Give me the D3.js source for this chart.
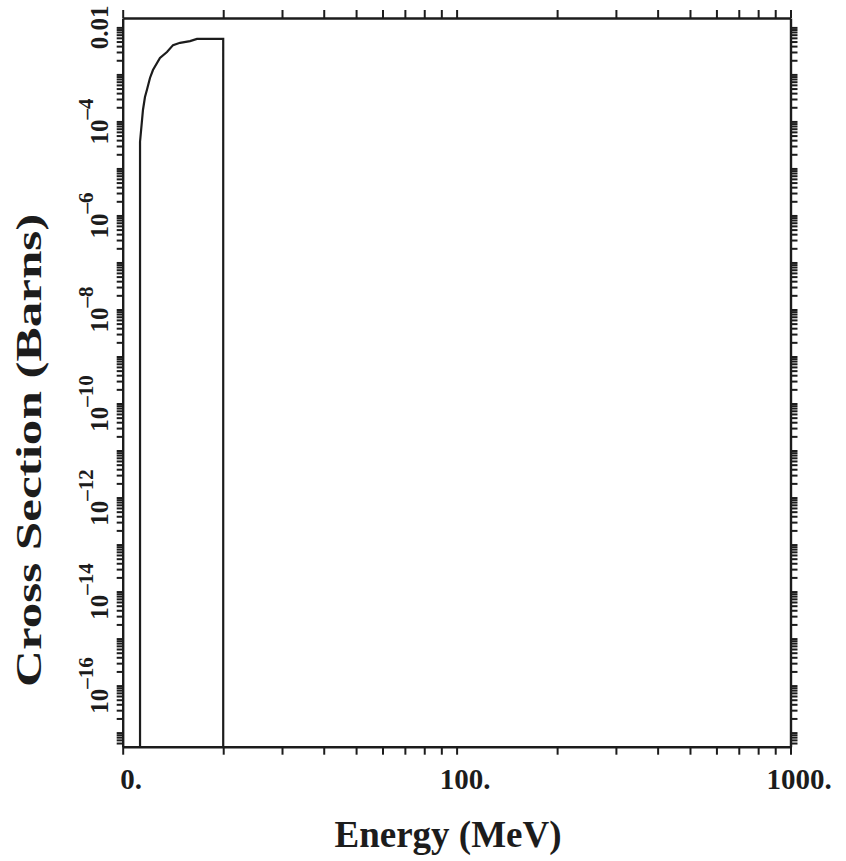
<!DOCTYPE html>
<html>
<head>
<meta charset="utf-8">
<script src="https://cdn.jsdelivr.net/npm/d3@7"></script>
<style>
    body { margin: 0; background: #fff; }
    svg { display: block; }
</style>
</head>
<body>
<div id="chart"></div>
<script>
// curve (MeV, barns); 0 = below the axis floor
const energy = [11.27, 11.27, 11.50, 11.66, 11.82, 12.07, 12.32, 12.93, 13.57, 14.15, 14.85, 15.91, 16.69, 20.0, 20.0];
const crossSection = [0, 3.7e-5, 1.75e-4, 3.3e-4, 4.7e-4, 8.4e-4, 1.24e-3, 2.23e-3, 3.0e-3, 4.2e-3, 4.7e-3, 5.1e-3, 5.7e-3, 5.7e-3, 0];

const xTickValues = [10, 20, 30, 40, 50, 60, 70, 80, 90, 100, 200, 300, 400, 500, 600, 700, 800, 900, 1000];
const xLabelValues = [10, 100, 1000];
const xLabels = ["0.", "100.", "1000."];

const yLabelValues = [1e-2, 1e-4, 1e-6, 1e-8, 1e-10, 1e-12, 1e-14, 1e-16];
const yLabelBase = ["0.01", "10", "10", "10", "10", "10", "10", "10"];
const yLabelSup = ["", "-4", "-6", "-8", "-10", "-12", "-14", "-16"];

const xTitle = "Energy (MeV)";
const yTitle = "Cross Section (Barns)";

const width = 846, height = 861;
const margin = { top: 18, right: 55.5, bottom: 114.3, left: 122.7 };
const innerW = width - margin.left - margin.right;
const innerH = height - margin.top - margin.bottom;
const ink = "#1c1c1c";
const serif = "'Liberation Serif', 'Times New Roman', serif";

const svg = d3.select('#chart').append('svg')
    .attr('width', width)
    .attr('height', height);

const g = svg.append('g')
    .attr('transform', `translate(${margin.left},${margin.top})`);

const xScale = d3.scaleLog()
    .domain([10, 1000])
    .range([0, innerW]);

const yScale = d3.scaleLog()
    .domain([Math.pow(10, -17.3), Math.pow(10, -1.8)])
    .range([innerH, 0])
    .clamp(true);

// 1..9 ticks for every decade inside the y domain
let yTickValues = [];
for (let k = -18; k <= -1; k++) {
    for (let m = 1; m <= 9; m++) {
        const v = m * Math.pow(10, k);
        if (v >= yScale.domain()[0] && v <= yScale.domain()[1]) yTickValues.push(v);
    }
}

// the curve
const data = energy.map((e, i) => ({ x: e, y: crossSection[i] }));
const lineFn = d3.line()
    .x(d => xScale(d.x))
    .y(d => yScale(Math.max(d.y, 1e-300)));

g.append('path')
    .datum(data)
    .attr('fill', 'none')
    .attr('stroke', ink)
    .attr('stroke-width', 2.2)
    .attr('d', lineFn);

// axes / frame
const styleAxis = sel => {
    sel.selectAll('.domain').attr('stroke', ink).attr('stroke-width', 2.4);
    sel.selectAll('.tick line').attr('stroke', ink).attr('stroke-width', 2);
};

g.append('g')
    .attr('transform', `translate(0,${innerH})`)
    .call(d3.axisBottom(xScale).tickValues(xTickValues).tickSize(8).tickSizeOuter(0)
        .tickFormat(d => {
            const i = xLabelValues.indexOf(d);
            return i >= 0 ? xLabels[i] : "";
        }))
    .call(styleAxis)
    .call(a => a.selectAll('.tick text')
        .attr('font-family', serif)
        .attr('font-weight', 'bold')
        .attr('font-size', 29)
        .attr('fill', ink)
        .attr('dx', 8)
        .attr('y', 22));

g.append('g')
    .call(d3.axisTop(xScale).tickValues(xTickValues).tickSize(8).tickSizeOuter(0).tickFormat(""))
    .call(styleAxis);

g.append('g')
    .call(d3.axisLeft(yScale).tickValues(yTickValues).tickSize(6).tickSizeOuter(0).tickFormat(""))
    .call(styleAxis);

g.append('g')
    .attr('transform', `translate(${innerW},0)`)
    .call(d3.axisRight(yScale).tickValues(yTickValues).tickSize(7).tickSizeOuter(0).tickFormat(""))
    .call(styleAxis);

// rotated y tick labels
const yLab = g.append('g')
    .selectAll('text')
    .data(yLabelValues)
    .join('text')
    .attr('transform', d => `translate(-15,${yScale(d)}) rotate(-90)`)
    .attr('text-anchor', 'middle')
    .attr('font-family', serif)
    .attr('font-weight', 'bold')
    .attr('font-size', 25)
    .attr('fill', ink);

yLab.append('tspan').text((d, i) => yLabelBase[i]);
yLab.append('tspan')
    .attr('dy', -15)
    .attr('font-size', 21)
    .text((d, i) => yLabelSup[i].replace('-', '\u2013'));

// titles
svg.append('text')
    .attr('x', 448)
    .attr('y', 847)
    .attr('text-anchor', 'middle')
    .attr('font-family', serif)
    .attr('font-weight', 'bold')
    .attr('font-size', 37)
    .attr('fill', ink)
    .text(xTitle);

svg.append('text')
    .attr('transform', `translate(41,${margin.top + innerH / 2 + 68}) rotate(-90) scale(1.42,1)`)
    .attr('text-anchor', 'middle')
    .attr('font-family', serif)
    .attr('font-weight', 'bold')
    .attr('font-size', 36)
    .attr('fill', ink)
    .text(yTitle);
</script>
</body>
</html>
